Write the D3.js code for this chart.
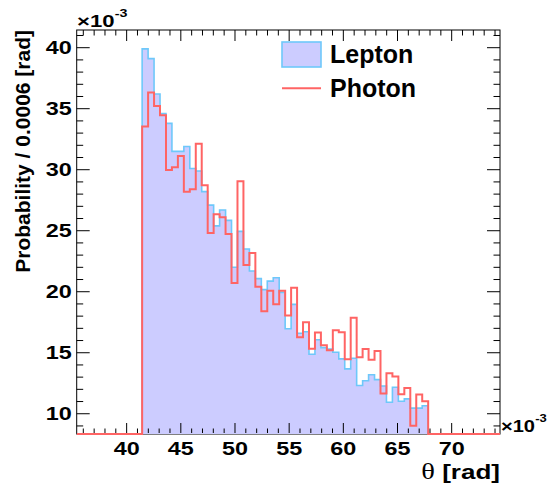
<!DOCTYPE html>
<html>
<head>
<meta charset="utf-8">
<script src="https://cdn.jsdelivr.net/npm/d3@7"></script>
<style>
  body { margin: 0; background: #fff; }
  text { font-family: 'Liberation Sans', Arial, sans-serif; font-weight: bold; }
</style>
</head>
<body>
<div id="chart"></div>
<script>
// theta histogram, units of 1e-3 rad
const binStart = 41.43;
const binWidth = 0.55;

const lepton = [39.9, 39.1, 36.2, 34.6, 33.8, 31.5, 31.5, 31.9, 30.1, 29.9, 28.2, 27.1,
  25.4, 26.7, 25.85, 22.0, 24.95, 23.5, 21.7, 21.07, 20.17, 20.87, 21.15, 19.95,
  16.96, 18.96, 16.6, 16.72, 14.88, 16.06, 15.42, 15.3, 15.04, 14.5, 13.68, 14.55,
  12.31, 12.7, 13.2, 12.8, 12.28, 10.94, 12.17, 11.03, 11.22, 10.46, 10.46, 10.66];

const photon = [33.55, 36.33, 35.22, 34.47, 29.98, 30.2, 31.12, 28.2, 28.4, 32.12, 28.73, 24.81,
  26.35, 26.1, 24.73, 20.72, 29.06, 22.19, 23.17, 20.41, 18.41, 20.07, 18.98, 20.07,
  18.05, 20.33, 16.27, 17.5, 15.32, 16.66, 15.62, 15.21, 16.85, 16.68, 14.47, 17.86,
  14.63, 15.3, 14.42, 15.15, 11.65, 13.32, 13.05, 11.6, 12.1, 9.02, 11.57, 11.02];

const xTicks = [40, 45, 50, 55, 60, 65, 70];
const yTicks = [10, 15, 20, 25, 30, 35, 40];
const xDomain = [35.39, 74.46];
const yDomain = [8.34, 41.45];

const width = 550;
const height = 489;
const frame = { left: 76.7, right: 500, top: 30, bottom: 434 };

const svg = d3.select('#chart')
  .append('svg')
  .attr('width', width)
  .attr('height', height);

const x = d3.scaleLinear().domain(xDomain).range([frame.left, frame.right]);
const y = d3.scaleLinear().domain(yDomain).range([frame.bottom, frame.top]);

// let the outline at the minimum sit on top of the bottom axis
svg.append('clipPath').attr('id', 'clip')
  .append('rect')
  .attr('x', frame.left).attr('y', frame.top)
  .attr('width', frame.right - frame.left)
  .attr('height', frame.bottom - frame.top + 2);

// frame
svg.append('rect')
  .attr('x', frame.left).attr('y', frame.top)
  .attr('width', frame.right - frame.left)
  .attr('height', frame.bottom - frame.top)
  .attr('fill', 'none')
  .attr('stroke', '#000')
  .attr('stroke-width', 1);

// outline points of a step histogram, padded with empty bins to the frame edges
function stepPoints(values) {
  const pts = [[xDomain[0], yDomain[0]], [binStart, yDomain[0]]];
  values.forEach((v, i) => {
    const v0 = Math.max(v, yDomain[0]);
    pts.push([binStart + i * binWidth, v0]);
    pts.push([binStart + (i + 1) * binWidth, v0]);
  });
  const end = binStart + values.length * binWidth;
  pts.push([end, yDomain[0]]);
  pts.push([xDomain[1], yDomain[0]]);
  return pts;
}

const line = d3.line().x(d => x(d[0])).y(d => y(d[1]));
const area = d3.area().x(d => x(d[0])).y0(y(yDomain[0])).y1(d => y(d[1]));

const plot = svg.append('g').attr('clip-path', 'url(#clip)');

plot.append('path')
  .datum(stepPoints(lepton))
  .attr('d', area)
  .attr('fill', '#ccccff');

plot.append('path')
  .datum(stepPoints(lepton))
  .attr('d', line)
  .attr('fill', 'none')
  .attr('stroke', '#6ec8fa')
  .attr('stroke-width', 1.6);

plot.append('path')
  .datum(stepPoints(photon))
  .attr('d', line)
  .attr('fill', 'none')
  .attr('stroke', '#ff6464')
  .attr('stroke-width', 2);

// ticks, all inside the frame (ROOT style)
const xMinor = d3.range(36, 75, 1);
const yMinor = d3.range(9, 42, 1);
const axisG = svg.append('g').attr('stroke', '#000').attr('stroke-width', 1);

xMinor.forEach(t => {
  const len = t % 5 === 0 ? 11 : 5.5;
  axisG.append('line').attr('x1', x(t)).attr('x2', x(t))
    .attr('y1', frame.bottom - 1).attr('y2', frame.bottom - len);
  axisG.append('line').attr('x1', x(t)).attr('x2', x(t))
    .attr('y1', frame.top).attr('y2', frame.top + len);
});

yMinor.forEach(t => {
  const len = t % 5 === 0 ? 13 : 6.5;
  axisG.append('line').attr('y1', y(t)).attr('y2', y(t))
    .attr('x1', frame.left).attr('x2', frame.left + len);
  axisG.append('line').attr('y1', y(t)).attr('y2', y(t))
    .attr('x1', frame.right).attr('x2', frame.right - len);
});

// tick labels (wide bold digits)
const labelScale = 1.3;
xTicks.forEach(t => {
  svg.append('text')
    .attr('transform', `translate(${x(t)},${455}) scale(${labelScale},1)`)
    .attr('text-anchor', 'middle')
    .style('font-size', '18px')
    .text(t);
});

yTicks.forEach(t => {
  svg.append('text')
    .attr('transform', `translate(71.7,${y(t) + 6.5}) scale(${labelScale},1)`)
    .attr('text-anchor', 'end')
    .style('font-size', '18px')
    .text(t);
});

// exponent labels
function exponent(px, py, sx) {
  const g = svg.append('g').attr('transform', `translate(${px},${py}) scale(${sx},1)`);
  g.append('text').style('font-size', '17px').text('\u00d710');
  g.append('text').attr('x', 29).attr('y', -10).style('font-size', '11px').text('-3');
}
exponent(77, 27, labelScale);
exponent(501, 432, 1.18);

// axis titles
const xt = svg.append('text')
  .attr('transform', 'translate(500,479) scale(1.24,1)')
  .attr('text-anchor', 'end')
  .style('font-size', '21px');
xt.append('tspan')
  .style('font-family', "'Liberation Serif', serif")
  .style('font-weight', 'normal')
  .style('font-size', '23px')
  .text('\u03b8');
xt.append('tspan').text(' [rad]');

svg.append('text')
  .attr('transform', 'translate(29.5,30) rotate(-90)')
  .attr('text-anchor', 'end')
  .style('font-size', '21px')
  .text('Probability / 0.0006 [rad]');

// legend
const legend = svg.append('g');
legend.append('rect')
  .attr('x', 282).attr('y', 42).attr('width', 39).attr('height', 25)
  .attr('fill', '#ccccff').attr('stroke', '#6ec8fa').attr('stroke-width', 1.6);
legend.append('line')
  .attr('x1', 282).attr('x2', 321).attr('y1', 88.3).attr('y2', 88.3)
  .attr('stroke', '#ff6464').attr('stroke-width', 2);
legend.append('text').attr('x', 330).attr('y', 63.3).style('font-size', '25px').text('Lepton');
legend.append('text').attr('x', 330).attr('y', 97.3).style('font-size', '25px').text('Photon');
</script>
</body>
</html>
